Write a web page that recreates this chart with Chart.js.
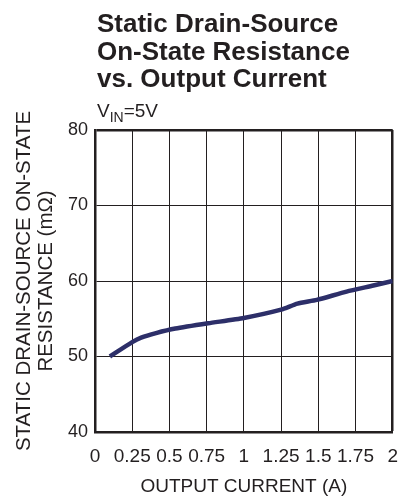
<!DOCTYPE html>
<html>
<head>
<meta charset="utf-8">
<script src="https://cdn.jsdelivr.net/npm/chart.js@4/dist/chart.umd.min.js"></script>
<style>
  html, body { margin: 0; padding: 0; background: #fff; }
  #wrap { width: 411px; height: 498px; }
</style>
</head>
<body>
<div id="wrap"><canvas id="grafico" width="411" height="498"></canvas></div>
<script>
// datos
const corriente = [0.1, 0.25, 0.31, 0.41, 0.54, 0.76, 1.0, 1.25, 1.36, 1.49, 1.69, 1.87, 2.0];
const resistencia = [50.0, 51.9, 52.5, 53.1, 53.7, 54.4, 55.1, 56.2, 57.0, 57.5, 58.6, 59.4, 60.0];

const xTicks = ['0', '0.25', '0.5', '0.75', '1', '1.25', '1.5', '1.75', '2'];
const yTicks = ['40', '50', '60', '70', '80'];

const tituloLineas = ['Static Drain-Source', 'On-State Resistance', 'vs. Output Current'];
const ejeY = ['STATIC DRAIN-SOURCE ON-STATE', 'RESISTANCE (m\u03A9)'];
const ejeX = 'OUTPUT CURRENT (A)';

const FUENTE = "'Liberation Sans', Arial, Helvetica, sans-serif";
const TINTA = '#231f20';

/** titulo y V_IN dibujados sobre el area del grafico **/
const tituloPlugin = {
    id: 'tituloPlugin',
    afterDraw(chart) {
        const ctx = chart.ctx;
        const x0 = chart.chartArea.left + 2;
        ctx.save();
        ctx.fillStyle = TINTA;
        ctx.textAlign = 'left';
        ctx.textBaseline = 'alphabetic';
        ctx.font = "bold 26px " + FUENTE;
        tituloLineas.forEach((t, i) => ctx.fillText(t, x0, 32 + i * 27.5));

        // V con subindice IN
        let x = x0;
        ctx.font = "19px " + FUENTE;
        ctx.fillText('V', x, 117);
        x += ctx.measureText('V').width;
        ctx.font = "14px " + FUENTE;
        ctx.fillText('IN', x, 122);
        x += ctx.measureText('IN').width;
        ctx.font = "19px " + FUENTE;
        ctx.fillText('=5V', x, 117);
        ctx.restore();
    }
};

new Chart(document.getElementById('grafico'), {
    type: 'scatter',
    data: {
        datasets: [{
            data: corriente.map((c, i) => ({ x: c, y: resistencia[i] })),
            showLine: true,
            borderColor: '#2d2f69',
            borderWidth: 4.5,
            pointRadius: 0,
            tension: 0.2,
            borderCapStyle: 'butt'
        }]
    },
    options: {
        responsive: false,
        animation: false,
        devicePixelRatio: 1,
        layout: { padding: { top: 130, right: 14, bottom: 0, left: 0 } },
        plugins: { legend: { display: false }, tooltip: { enabled: false } },
        scales: {
            x: {
                type: 'linear', min: 0, max: 2,
                afterFit: s => { s.height = 66; },
                afterBuildTicks: s => { s.ticks = xTicks.map(t => ({ value: Number(t) })); },
                ticks: {
                    callback: (v, i) => xTicks[i],
                    color: TINTA, font: { family: FUENTE, size: 19 },
                    padding: 13, maxRotation: 0, autoSkip: false
                },
                grid: {
                    color: TINTA, drawTicks: false,
                    lineWidth: c => (c.tick && c.tick.value === 2 ? 2.5 : 1)
                },
                border: { color: TINTA, width: 2.5 },
                title: {
                    display: true, text: ejeX, color: TINTA,
                    font: { family: FUENTE, size: 19, lineHeight: 1.15 },
                    padding: { top: 0, bottom: 0 }
                }
            },
            y: {
                type: 'linear', min: 40, max: 80,
                afterFit: s => { s.width = 95; },
                afterBuildTicks: s => { s.ticks = yTicks.map(t => ({ value: Number(t) })); },
                ticks: {
                    callback: (v, i) => yTicks[i],
                    color: TINTA, font: { family: FUENTE, size: 18 },
                    padding: 7
                },
                grid: {
                    color: TINTA, drawTicks: false,
                    lineWidth: c => (c.tick && c.tick.value === 80 ? 2.5 : 1)
                },
                border: { color: TINTA, width: 2.5 },
                title: {
                    display: true, text: ejeY, color: TINTA,
                    font: { family: FUENTE, size: 20.5, lineHeight: 1.08 },
                    padding: { top: 13, bottom: 0 }
                }
            }
        }
    },
    plugins: [tituloPlugin]
});
</script>
</body>
</html>
